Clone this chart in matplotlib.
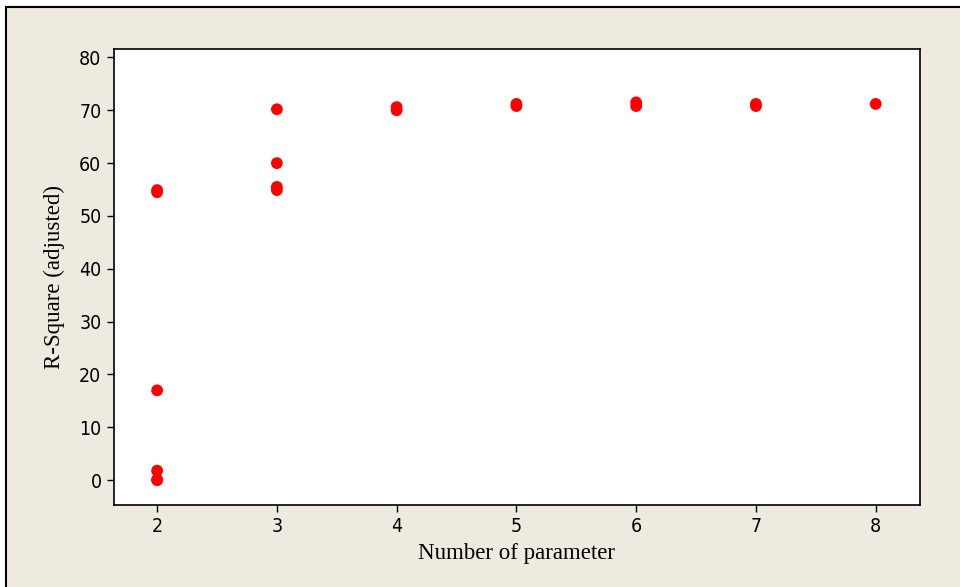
import matplotlib
matplotlib.use("Agg")
import matplotlib.pyplot as plt
from matplotlib.patches import Rectangle

# number of parameters in each candidate model and its adjusted R-square
n_params = [2, 2, 2, 2, 2, 2,
            3, 3, 3, 3,
            4, 4,
            5, 5,
            6, 6,
            7, 7,
            8]
r2_adj = [54.5, 54.9, 17.0, 1.8, 0.1, 0.0,
          70.2, 60.0, 55.5, 54.9,
          70.0, 70.6,
          70.8, 71.2,
          70.8, 71.5,
          70.8, 71.2,
          71.2]

x_ticks = [2, 3, 4, 5, 6, 7, 8]
y_ticks = [0, 10, 20, 30, 40, 50, 60, 70, 80]

W, H = 960, 587
fig = plt.figure(figsize=(W / 100, H / 100), dpi=100)
fig.patch.set_facecolor("white")

# beige panel with black frame on the left/top (image is cropped right/bottom)
bg = Rectangle((6 / W, -0.05), 1.1, 1.05 - 7 / H, transform=fig.transFigure,
               facecolor="#EEEAE0", edgecolor="black", lw=1.5, zorder=-10,
               clip_on=False)
fig.patches.append(bg)

left, right, top, bottom = 114, 920, 49, 505
ax = fig.add_axes([left / W, 1 - bottom / H, (right - left) / W, (bottom - top) / H])
ax.set_facecolor("white")

ax.scatter(n_params, r2_adj, s=72, color="#FF0000", edgecolors="none", zorder=3)

ax.set_xlim(1.64, 8.37)
ax.set_ylim(-4.7, 81.6)
ax.set_xticks(x_ticks)
ax.set_yticks(y_ticks)

tick_font = {"family": "DejaVu Sans", "stretch": "condensed", "size": 14}
ax.set_xticklabels([str(t) for t in x_ticks], fontdict=tick_font)
ax.set_yticklabels([str(t) for t in y_ticks], fontdict=tick_font)
ax.tick_params(direction="out", length=5, width=1, color="black", pad=4,
               top=False, right=False)

for s in ax.spines.values():
    s.set_linewidth(1.2)
    s.set_color("black")

label_font = {"family": "Liberation Serif", "size": 16.5}
ax.set_xlabel("Number of parameter", fontdict=label_font, labelpad=5)
ax.set_ylabel("R-Square (adjusted)", fontdict=label_font, labelpad=10)

fig.savefig("out.png", dpi=100)
